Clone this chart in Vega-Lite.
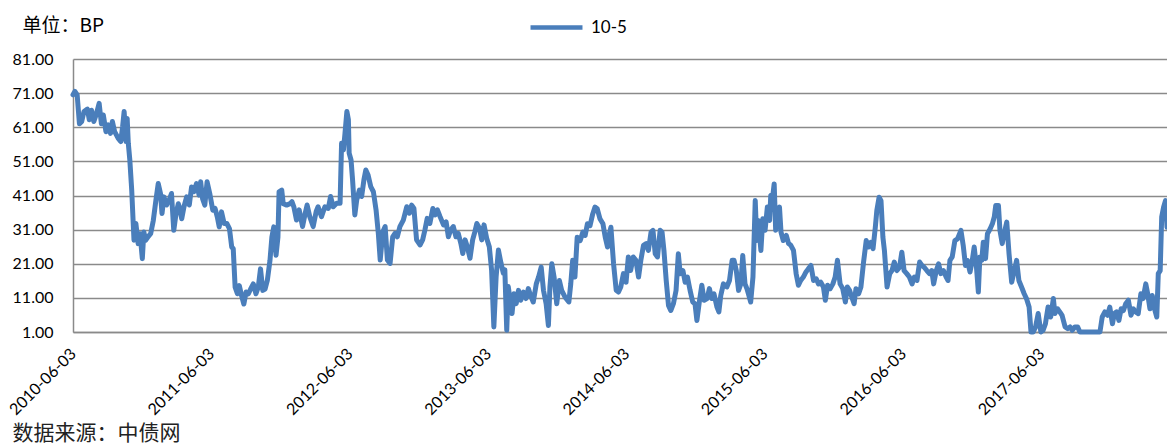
{
"$schema": "https://vega.github.io/schema/vega-lite/v6.json",
"width": 1094,
"height": 273,
"autosize": {"type": "none"},
"padding": {"left": 73, "top": 59, "right": 0, "bottom": 112},
"background": "white",
"data": {"values": [
{"d":"2010-06-03","v":70.5},{"d":"2010-06-08","v":71.5},{"d":"2010-06-14","v":70.5},{"d":"2010-06-20","v":62},{"d":"2010-06-26","v":62.7},{"d":"2010-07-02","v":65.6},{"d":"2010-07-11","v":66.3},{"d":"2010-07-16","v":63.2},{"d":"2010-07-22","v":66},{"d":"2010-07-28","v":62.7},{"d":"2010-08-04","v":65},{"d":"2010-08-11","v":68},{"d":"2010-08-17","v":62},{"d":"2010-08-22","v":64.6},{"d":"2010-08-29","v":59.7},{"d":"2010-09-04","v":61.7},{"d":"2010-09-10","v":59.2},{"d":"2010-09-15","v":62.7},{"d":"2010-09-21","v":59.7},{"d":"2010-09-30","v":57.8},{"d":"2010-10-07","v":56.8},{"d":"2010-10-12","v":61.2},{"d":"2010-10-16","v":65.6},{"d":"2010-10-21","v":56.8},{"d":"2010-10-24","v":63.6},{"d":"2010-10-27","v":56.3},{"d":"2010-10-31","v":51.4},{"d":"2010-11-05","v":42.6},{"d":"2010-11-11","v":27.9},{"d":"2010-11-16","v":32.8},{"d":"2010-11-22","v":26.9},{"d":"2010-11-27","v":29.8},{"d":"2010-12-03","v":22.5},{"d":"2010-12-07","v":30.3},{"d":"2010-12-12","v":27.9},{"d":"2010-12-18","v":28.9},{"d":"2010-12-25","v":29.8},
{"d":"2011-01-01","v":33.7},{"d":"2011-01-08","v":39.7},{"d":"2011-01-14","v":44.5},{"d":"2011-01-20","v":41.6},{"d":"2011-01-24","v":35.7},{"d":"2011-01-29","v":40.6},{"d":"2011-02-05","v":38.2},{"d":"2011-02-12","v":39.7},{"d":"2011-02-18","v":41.6},{"d":"2011-02-24","v":30.8},{"d":"2011-03-02","v":35.7},{"d":"2011-03-08","v":38.6},{"d":"2011-03-12","v":37.2},{"d":"2011-03-17","v":34.2},{"d":"2011-03-23","v":37.7},{"d":"2011-03-30","v":40.6},{"d":"2011-04-06","v":38.2},{"d":"2011-04-12","v":43.5},{"d":"2011-04-18","v":42.1},{"d":"2011-04-25","v":44.5},{"d":"2011-05-02","v":41.1},{"d":"2011-05-06","v":45},{"d":"2011-05-11","v":40.1},{"d":"2011-05-17","v":38.2},{"d":"2011-05-23","v":45},{"d":"2011-05-30","v":41.6},{"d":"2011-06-07","v":36.7},{"d":"2011-06-13","v":37.2},{"d":"2011-06-19","v":34.7},{"d":"2011-06-24","v":31.8},{"d":"2011-06-30","v":36.2},{"d":"2011-07-07","v":32.8},{"d":"2011-07-14","v":32.8},{"d":"2011-07-21","v":31.3},{"d":"2011-07-27","v":25.9},{"d":"2011-07-31","v":25.4},{"d":"2011-08-05","v":14.1},{"d":"2011-08-11","v":12.2},{"d":"2011-08-16","v":14.6},{"d":"2011-08-22","v":11.7},{"d":"2011-08-28","v":9.2},{"d":"2011-09-03","v":12.7},{"d":"2011-09-09","v":12.2},{"d":"2011-09-15","v":13.6},{"d":"2011-09-22","v":15.1},{"d":"2011-09-29","v":12.2},{"d":"2011-10-05","v":14.1},{"d":"2011-10-11","v":19.5},{"d":"2011-10-17","v":13.2},{"d":"2011-10-23","v":13.6},{"d":"2011-10-29","v":16.1},{"d":"2011-11-05","v":22},{"d":"2011-11-10","v":28.8},{"d":"2011-11-15","v":31.8},{"d":"2011-11-21","v":23.5},{"d":"2011-11-26","v":28.8},{"d":"2011-11-29","v":42.1},{"d":"2011-12-06","v":42.6},{"d":"2011-12-10","v":38.6},{"d":"2011-12-19","v":38.2},{"d":"2011-12-28","v":38.6},
{"d":"2012-01-02","v":39.2},{"d":"2012-01-07","v":37.7},{"d":"2012-01-14","v":33.8},{"d":"2012-01-21","v":36.8},{"d":"2012-01-30","v":31.9},{"d":"2012-02-06","v":35.8},{"d":"2012-02-11","v":38.2},{"d":"2012-02-18","v":34.8},{"d":"2012-02-27","v":31.9},{"d":"2012-03-06","v":36.3},{"d":"2012-03-11","v":37.7},{"d":"2012-03-20","v":34.8},{"d":"2012-03-29","v":37.7},{"d":"2012-04-07","v":37.2},{"d":"2012-04-13","v":40.7},{"d":"2012-04-20","v":37.7},{"d":"2012-04-29","v":38.7},{"d":"2012-05-08","v":38.7},{"d":"2012-05-12","v":56.3},{"d":"2012-05-17","v":54.4},{"d":"2012-05-21","v":59.2},{"d":"2012-05-26","v":65.6},{"d":"2012-05-30","v":63.2},{"d":"2012-06-01","v":53.4},{"d":"2012-06-06","v":51.4},{"d":"2012-06-10","v":45.6},{"d":"2012-06-16","v":35.3},{"d":"2012-06-21","v":39.7},{"d":"2012-06-28","v":42.6},{"d":"2012-07-04","v":40.7},{"d":"2012-07-10","v":45.6},{"d":"2012-07-15","v":48.5},{"d":"2012-07-21","v":47},{"d":"2012-07-28","v":43.6},{"d":"2012-08-04","v":42.1},{"d":"2012-08-11","v":36.8},{"d":"2012-08-17","v":29.9},{"d":"2012-08-22","v":22.1},{"d":"2012-08-29","v":30.4},{"d":"2012-09-04","v":31.9},{"d":"2012-09-10","v":22.1},{"d":"2012-09-17","v":21.1},{"d":"2012-09-24","v":28.9},{"d":"2012-09-30","v":29.9},{"d":"2012-10-06","v":28.9},{"d":"2012-10-13","v":31.9},{"d":"2012-10-22","v":33.8},{"d":"2012-10-31","v":37.7},{"d":"2012-11-07","v":35.8},{"d":"2012-11-13","v":38.2},{"d":"2012-11-19","v":37.2},{"d":"2012-11-26","v":28},{"d":"2012-12-05","v":26.5},{"d":"2012-12-12","v":28},{"d":"2012-12-18","v":30.9},{"d":"2012-12-24","v":34.3},{"d":"2012-12-31","v":32.8},
{"d":"2013-01-08","v":37.2},{"d":"2013-01-14","v":35.3},{"d":"2013-01-20","v":36.8},{"d":"2013-01-27","v":34.8},{"d":"2013-02-05","v":32.4},{"d":"2013-02-12","v":33.3},{"d":"2013-02-18","v":28.9},{"d":"2013-02-24","v":30.9},{"d":"2013-03-03","v":31.9},{"d":"2013-03-10","v":28.9},{"d":"2013-03-16","v":29.9},{"d":"2013-03-23","v":26.9},{"d":"2013-03-28","v":24},{"d":"2013-04-03","v":28},{"d":"2013-04-09","v":26},{"d":"2013-04-16","v":22.6},{"d":"2013-04-23","v":28},{"d":"2013-04-29","v":30.4},{"d":"2013-05-04","v":32.8},{"d":"2013-05-11","v":31.4},{"d":"2013-05-17","v":28},{"d":"2013-05-23","v":32.4},{"d":"2013-05-30","v":28.5},{"d":"2013-06-06","v":26},{"d":"2013-06-12","v":19.2},{"d":"2013-06-18","v":2.5},{"d":"2013-06-24","v":17.2},{"d":"2013-06-30","v":25},{"d":"2013-07-07","v":21.1},{"d":"2013-07-13","v":18.2},{"d":"2013-07-17","v":19.2},{"d":"2013-07-22","v":1.5},{"d":"2013-07-26","v":14.3},{"d":"2013-07-31","v":10.4},{"d":"2013-08-05","v":6.4},{"d":"2013-08-10","v":12.2},{"d":"2013-08-16","v":9.3},{"d":"2013-08-22","v":13.2},{"d":"2013-08-28","v":10.3},{"d":"2013-09-04","v":12.7},{"d":"2013-09-11","v":10.8},{"d":"2013-09-17","v":13.7},{"d":"2013-09-23","v":11.7},{"d":"2013-09-30","v":9.8},{"d":"2013-10-08","v":15.1},{"d":"2013-10-14","v":17.1},{"d":"2013-10-21","v":20},{"d":"2013-10-27","v":13.2},{"d":"2013-11-03","v":9.3},{"d":"2013-11-09","v":2.9},{"d":"2013-11-13","v":14.2},{"d":"2013-11-18","v":21},{"d":"2013-11-24","v":17.1},{"d":"2013-12-01","v":9.3},{"d":"2013-12-08","v":16.1},{"d":"2013-12-14","v":13.2},{"d":"2013-12-23","v":11.2},
{"d":"2014-01-02","v":9.8},{"d":"2014-01-07","v":15.1},{"d":"2014-01-12","v":22},{"d":"2014-01-18","v":17.1},{"d":"2014-01-24","v":28.8},{"d":"2014-02-01","v":27.8},{"d":"2014-02-08","v":30.3},{"d":"2014-02-14","v":29.3},{"d":"2014-02-20","v":32.7},{"d":"2014-02-27","v":32.2},{"d":"2014-03-06","v":35.6},{"d":"2014-03-12","v":37.6},{"d":"2014-03-18","v":37.1},{"d":"2014-03-25","v":34.2},{"d":"2014-04-02","v":32.7},{"d":"2014-04-08","v":28.8},{"d":"2014-04-14","v":25.9},{"d":"2014-04-19","v":29.8},{"d":"2014-04-23","v":31.7},{"d":"2014-04-30","v":21},{"d":"2014-05-07","v":13.2},{"d":"2014-05-13","v":12.7},{"d":"2014-05-19","v":14.2},{"d":"2014-05-26","v":18.1},{"d":"2014-06-02","v":15.6},{"d":"2014-06-08","v":23},{"d":"2014-06-14","v":19},{"d":"2014-06-21","v":23},{"d":"2014-06-28","v":22},{"d":"2014-07-05","v":17.1},{"d":"2014-07-11","v":22},{"d":"2014-07-18","v":26.4},{"d":"2014-07-25","v":26.9},{"d":"2014-07-31","v":24.9},{"d":"2014-08-07","v":30.3},{"d":"2014-08-12","v":30.8},{"d":"2014-08-18","v":23.9},{"d":"2014-08-24","v":23},{"d":"2014-08-31","v":30.8},{"d":"2014-09-05","v":30.3},{"d":"2014-09-10","v":24.9},{"d":"2014-09-16","v":16.1},{"d":"2014-09-22","v":8.8},{"d":"2014-09-28","v":7.3},{"d":"2014-10-05","v":9.3},{"d":"2014-10-12","v":13.2},{"d":"2014-10-18","v":23.9},{"d":"2014-10-23","v":18.1},{"d":"2014-10-30","v":19},{"d":"2014-11-05","v":15.6},{"d":"2014-11-11","v":17.1},{"d":"2014-11-18","v":13.2},{"d":"2014-11-25","v":9.8},{"d":"2014-12-01","v":9.3},{"d":"2014-12-06","v":4.4},{"d":"2014-12-13","v":10.3},{"d":"2014-12-19","v":14.7},{"d":"2014-12-25","v":10.3},
{"d":"2015-01-02","v":10.8},{"d":"2015-01-08","v":13.7},{"d":"2015-01-14","v":10.8},{"d":"2015-01-20","v":12.2},{"d":"2015-01-28","v":8.3},{"d":"2015-02-02","v":6.9},{"d":"2015-02-07","v":11.7},{"d":"2015-02-14","v":15.1},{"d":"2015-02-23","v":14.2},{"d":"2015-03-02","v":16.1},{"d":"2015-03-09","v":22},{"d":"2015-03-14","v":22},{"d":"2015-03-20","v":19},{"d":"2015-03-26","v":13.2},{"d":"2015-04-01","v":15.1},{"d":"2015-04-06","v":23.4},{"d":"2015-04-12","v":15.1},{"d":"2015-04-17","v":13.7},{"d":"2015-04-21","v":12.2},{"d":"2015-04-27","v":9.8},{"d":"2015-05-03","v":17.1},{"d":"2015-05-09","v":39.5},{"d":"2015-05-13","v":27.8},{"d":"2015-05-17","v":33.7},{"d":"2015-05-24","v":24.9},{"d":"2015-05-29","v":34.2},{"d":"2015-06-04","v":30.8},{"d":"2015-06-10","v":37.6},{"d":"2015-06-16","v":33.7},{"d":"2015-06-19","v":41},{"d":"2015-06-25","v":41.5},{"d":"2015-06-28","v":44.4},{"d":"2015-07-02","v":30.8},{"d":"2015-07-07","v":35.6},{"d":"2015-07-12","v":37.6},{"d":"2015-07-16","v":30.3},{"d":"2015-07-22","v":27.8},{"d":"2015-07-30","v":29.3},{"d":"2015-08-05","v":26.9},{"d":"2015-08-11","v":26.4},{"d":"2015-08-18","v":24.9},{"d":"2015-08-25","v":18.1},{"d":"2015-08-31","v":14.7},{"d":"2015-09-06","v":16.1},{"d":"2015-09-13","v":17.1},{"d":"2015-09-20","v":18.6},{"d":"2015-09-26","v":19.5},{"d":"2015-10-03","v":20.5},{"d":"2015-10-10","v":16.1},{"d":"2015-10-17","v":16.6},{"d":"2015-10-23","v":15.1},{"d":"2015-10-29","v":15.6},{"d":"2015-11-05","v":14.2},{"d":"2015-11-10","v":10.3},{"d":"2015-11-16","v":14.7},{"d":"2015-11-23","v":13.7},{"d":"2015-11-30","v":15.1},{"d":"2015-12-06","v":17.1},{"d":"2015-12-12","v":22},{"d":"2015-12-19","v":15.1},{"d":"2015-12-26","v":13.7},
{"d":"2016-01-02","v":9.8},{"d":"2016-01-07","v":14.2},{"d":"2016-01-13","v":13.2},{"d":"2016-01-19","v":11.2},{"d":"2016-01-25","v":9.3},{"d":"2016-01-30","v":13.7},{"d":"2016-02-06","v":12.2},{"d":"2016-02-12","v":14.2},{"d":"2016-02-19","v":21.5},{"d":"2016-02-26","v":27.8},{"d":"2016-03-03","v":25.9},{"d":"2016-03-09","v":27.3},{"d":"2016-03-15","v":25.4},{"d":"2016-03-21","v":31.7},{"d":"2016-03-25","v":36.6},{"d":"2016-03-31","v":40.5},{"d":"2016-04-05","v":39.5},{"d":"2016-04-10","v":28.8},{"d":"2016-04-14","v":24.9},{"d":"2016-04-21","v":14.2},{"d":"2016-04-28","v":18.1},{"d":"2016-05-04","v":19},{"d":"2016-05-10","v":21.5},{"d":"2016-05-17","v":19},{"d":"2016-05-24","v":20},{"d":"2016-05-30","v":24.4},{"d":"2016-06-05","v":19},{"d":"2016-06-12","v":18.1},{"d":"2016-06-19","v":17.1},{"d":"2016-06-26","v":15.1},{"d":"2016-07-02","v":17.1},{"d":"2016-07-09","v":16.1},{"d":"2016-07-16","v":21.5},{"d":"2016-07-22","v":20.5},{"d":"2016-07-28","v":20},{"d":"2016-08-04","v":19},{"d":"2016-08-11","v":18.1},{"d":"2016-08-17","v":19},{"d":"2016-08-22","v":15.1},{"d":"2016-08-29","v":19},{"d":"2016-09-04","v":21},{"d":"2016-09-10","v":18.1},{"d":"2016-09-17","v":19},{"d":"2016-09-24","v":17.1},{"d":"2016-09-29","v":16.1},{"d":"2016-10-04","v":22},{"d":"2016-10-10","v":23},{"d":"2016-10-17","v":27.8},{"d":"2016-10-24","v":28.3},{"d":"2016-11-02","v":30.8},{"d":"2016-11-08","v":26.4},{"d":"2016-11-14","v":20.5},{"d":"2016-11-19","v":22},{"d":"2016-11-26","v":18.6},{"d":"2016-12-02","v":22},{"d":"2016-12-07","v":25.9},{"d":"2016-12-13","v":20},{"d":"2016-12-18","v":12.7},{"d":"2016-12-22","v":23},{"d":"2016-12-27","v":22},{"d":"2016-12-31","v":27.3},
{"d":"2017-01-06","v":22.5},{"d":"2017-01-11","v":29.8},{"d":"2017-01-18","v":31.2},{"d":"2017-01-24","v":32.7},{"d":"2017-01-29","v":34.7},{"d":"2017-02-02","v":38.1},{"d":"2017-02-09","v":38.1},{"d":"2017-02-13","v":30.8},{"d":"2017-02-19","v":26.9},{"d":"2017-02-24","v":29.8},{"d":"2017-03-03","v":33.2},{"d":"2017-03-09","v":23.9},{"d":"2017-03-16","v":15.6},{"d":"2017-03-23","v":19},{"d":"2017-03-29","v":22},{"d":"2017-04-04","v":16.1},{"d":"2017-04-11","v":14.2},{"d":"2017-04-18","v":12.2},{"d":"2017-04-24","v":10.8},{"d":"2017-05-01","v":8.3},{"d":"2017-05-06","v":1},{"d":"2017-05-12","v":1},{"d":"2017-05-18","v":2.5},{"d":"2017-05-25","v":6.4},{"d":"2017-06-01","v":1},{"d":"2017-06-07","v":1.5},{"d":"2017-06-13","v":3.4},{"d":"2017-06-20","v":8.3},{"d":"2017-06-27","v":5.4},{"d":"2017-07-04","v":10.8},{"d":"2017-07-08","v":6.4},{"d":"2017-07-15","v":7.8},{"d":"2017-07-21","v":6.9},{"d":"2017-07-27","v":5.9},{"d":"2017-08-04","v":2.5},{"d":"2017-08-11","v":2},{"d":"2017-08-17","v":2.5},{"d":"2017-08-23","v":1.5},{"d":"2017-08-30","v":2.5},{"d":"2017-09-06","v":2.5},{"d":"2017-09-12","v":1},{"d":"2017-09-25","v":1},{"d":"2017-10-09","v":1},{"d":"2017-10-22","v":1},{"d":"2017-11-04","v":1},{"d":"2017-11-10","v":5.4},{"d":"2017-11-17","v":6.9},{"d":"2017-11-24","v":5.9},{"d":"2017-11-30","v":8.3},{"d":"2017-12-07","v":3.4},{"d":"2017-12-12","v":6.4},{"d":"2017-12-18","v":6.9},{"d":"2017-12-24","v":4.4},{"d":"2017-12-30","v":7.8},
{"d":"2018-01-05","v":7.3},{"d":"2018-01-11","v":9.3},{"d":"2018-01-18","v":10.3},{"d":"2018-01-25","v":5.9},{"d":"2018-01-31","v":7.8},{"d":"2018-02-06","v":6.9},{"d":"2018-02-13","v":6.4},{"d":"2018-02-20","v":12.2},{"d":"2018-02-26","v":10.8},{"d":"2018-03-05","v":15.1},{"d":"2018-03-10","v":12.2},{"d":"2018-03-16","v":7.8},{"d":"2018-03-22","v":11.7},{"d":"2018-03-28","v":7.8},{"d":"2018-04-03","v":5.4},{"d":"2018-04-07","v":18.1},{"d":"2018-04-12","v":19},{"d":"2018-04-16","v":34.7},{"d":"2018-04-21","v":37.6},{"d":"2018-04-26","v":39.5},{"d":"2018-04-30","v":31.7}
]},
"mark": {"type": "line", "strokeWidth": 5, "strokeJoin": "round", "strokeCap": "round", "clip": false},
"encoding": {
"x": {"field": "d", "type": "temporal",
 "scale": {"type": "utc", "domain": [{"year": 2010, "month": 6, "date": 3, "utc": true}, {"year": 2018, "month": 4, "date": 30, "utc": true}]},
 "axis": {"values": [{"year": 2010, "month": 6, "date": 3, "utc": true}, {"year": 2011, "month": 6, "date": 3, "utc": true}, {"year": 2012, "month": 6, "date": 3, "utc": true}, {"year": 2013, "month": 6, "date": 3, "utc": true}, {"year": 2014, "month": 6, "date": 3, "utc": true}, {"year": 2015, "month": 6, "date": 3, "utc": true}, {"year": 2016, "month": 6, "date": 3, "utc": true}, {"year": 2017, "month": 6, "date": 3, "utc": true}],
  "labelExpr": "utcFormat(datum.value, '%Y-%m-%d')", "labelAngle": -45, "labelAlign": "right", "labelBaseline": "middle", "labelPadding": 19,
  "labelFont": "Lato", "labelFontSize": 16, "labelColor": "#000000", "labelOverlap": false, "labelFlush": false, "labelBound": false,
  "ticks": false, "grid": false, "domainColor": "#8a8a8a", "domainWidth": 1.5,
  "title": "数据来源：中债网", "titleFont": "Noto Sans CJK SC", "titleFontSize": 21, "titleFontWeight": "normal", "titleColor": "#222222",
  "titleAnchor": "start", "titleAlign": "left", "titleX": -61, "titleY": 101, "titleBaseline": "middle", "titleAngle": 0}},
"y": {"field": "v", "type": "quantitative",
 "scale": {"domain": [1, 81], "nice": false, "zero": false},
 "axis": {"values": [1, 11, 21, 31, 41, 51, 61, 71, 81], "format": ".2f", "labelFont": "Lato", "labelFontSize": 16, "labelColor": "#000000", "labelPadding": 20,
  "ticks": false, "grid": true, "gridColor": "#8a8a8a", "gridWidth": 1.5, "domainColor": "#8a8a8a", "domainWidth": 1.5,
  "title": "单位：BP", "titleFont": "Noto Sans CJK SC", "titleFontSize": 19, "titleFontWeight": "normal", "titleColor": "#000000",
  "titleAngle": 0, "titleAnchor": "start", "titleAlign": "left", "titleBaseline": "middle", "titleX": -51, "titleY": -34}},
"color": {"datum": "10-5", "type": "nominal", "scale": {"range": ["#4a7ebb"]},
 "legend": {"orient": "none", "legendX": 455, "legendY": -60, "title": null, "symbolType": "stroke", "symbolSize": 2700, "symbolStrokeWidth": 4.5,
  "labelFont": "Lato", "labelFontSize": 17, "labelColor": "#000000", "labelOffset": 6}}
},
"config": {"view": {"stroke": null}}
}
